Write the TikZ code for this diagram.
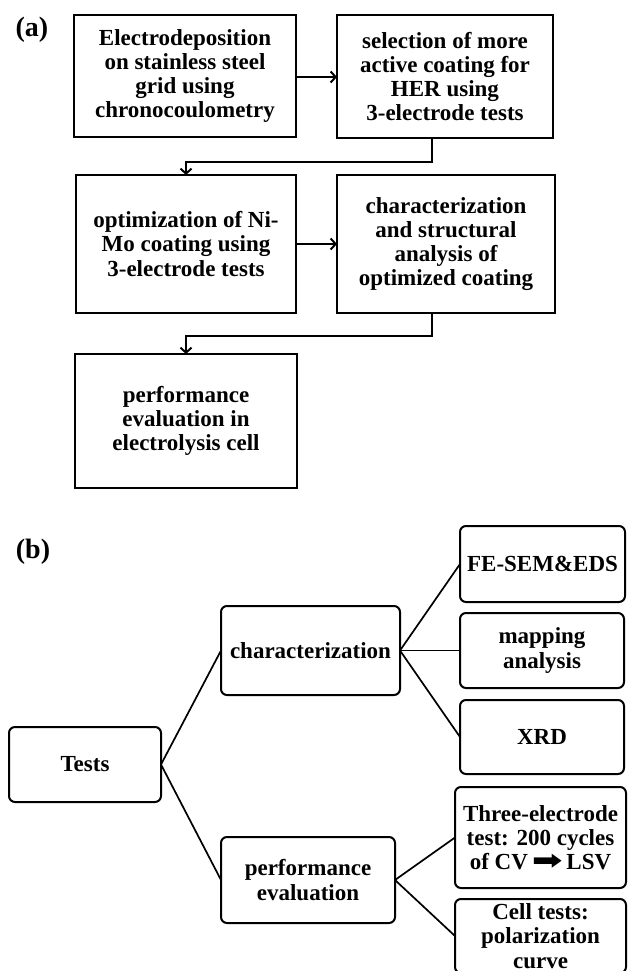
\documentclass[tikz,border=0pt]{standalone}
\usepackage{fontspec}
\setmainfont{Liberation Serif}
\newfontfamily\symfont{DejaVu Sans}
\usetikzlibrary{arrows.meta}
\tikzset{
  txt/.style={font=\bfseries\fontsize{23}{24.2}\selectfont, align=center},
  sqbox/.style={txt, draw, line width=2.3pt, inner sep=0pt, outer sep=0pt,
    execute at begin node={\rule{0pt}{21.5pt}}},
  rbox/.style={txt, draw, line width=2pt, rounded corners=6pt, inner sep=0pt, outer sep=0pt},
  flow/.style={line width=2pt, -{Straight Barb[length=5pt,width=11pt,line width=2pt]}},
  branch/.style={line width=1.7pt},
  panel/.style={font=\bfseries\fontsize{28}{28}\selectfont}
}
% box from corner coordinates (x1,y1) to (x2,y2), in pixels
\newcommand{\boxat}[7]{%
  \node[#1, minimum width={#4-#2}, minimum height={#5-#3}] (#6)
    at ({(#2+#4)/2},{(#3+#5)/2}) {#7};}
\begin{document}
\begin{tikzpicture}[x=1pt, y=-1pt]
\useasboundingbox (0,0) rectangle (627,971);
\clip (0,0) rectangle (627,971);

% ---- panel (a): process flow ----
\node[panel] (la) at (32,30) {(a)};
\boxat{sqbox}{74}{15}{296}{137}{a1}{Electrodeposition\\on stainless steel\\grid using\\chronocoulometry}
\boxat{sqbox}{337}{15}{553}{138}{a2}{selection of more\\active coating for\\HER using\\3-electrode tests}
\boxat{sqbox}{76}{175}{296}{313}{a3}{optimization of Ni-\\Mo coating using\\3-electrode tests}
\boxat{sqbox}{337}{175}{555}{313}{a4}{characterization\\and structural\\analysis of\\optimized coating}
\boxat{sqbox}{75}{354}{297}{488}{a5}{performance\\evaluation in\\electrolysis cell}

\coordinate (j1) at (432,162);
\coordinate (j2) at (432,336);
\draw[flow] (a1.east |- 0,77) -- (a2.west |- 0,77);
\draw[flow] (a2.south -| j1) -- (j1) -| (a3.north);
\draw[flow] (a3.east |- 0,244) -- (a4.west |- 0,244);
\draw[flow] (a4.south -| j2) -- (j2) -| (a5.north);

% ---- panel (b): test tree ----
\node[panel] (lb) at (33,552) {(b)};
\boxat{rbox}{9}{727}{161}{802}{tests}{Tests}
\boxat{rbox}{221}{606}{400}{695}{char}{characterization}
\boxat{rbox}{221}{837}{395}{923}{perf}{performance\\evaluation}
\boxat{rbox}{460}{526}{625}{602}{fesem}{FE-SEM\&EDS}
\boxat{rbox}{460}{613}{624}{688}{map}{mapping\\analysis}
\boxat{rbox}{460}{700}{624}{774}{xrd}{XRD}
\boxat{rbox}{455}{787}{626}{888}{three}{Three-electrode\\test: 200 cycles\\of CV\,\scalebox{1.6}[1.15]{\symfont ➡}\,LSV}
\boxat{rbox}{455}{899}{626}{973}{cell}{Cell tests:\\polarization\\curve}

\draw[branch] (tests.east) -- (char.west);
\draw[branch] (tests.east) -- (perf.west);
\draw[branch] (char.east) -- (fesem.west);
\draw[branch] (char.east) -- (map.west);
\draw[branch] (char.east) -- (xrd.west);
\draw[branch] (perf.east) -- (three.west);
\draw[branch] (perf.east) -- (cell.west);
\end{tikzpicture}
\end{document}
